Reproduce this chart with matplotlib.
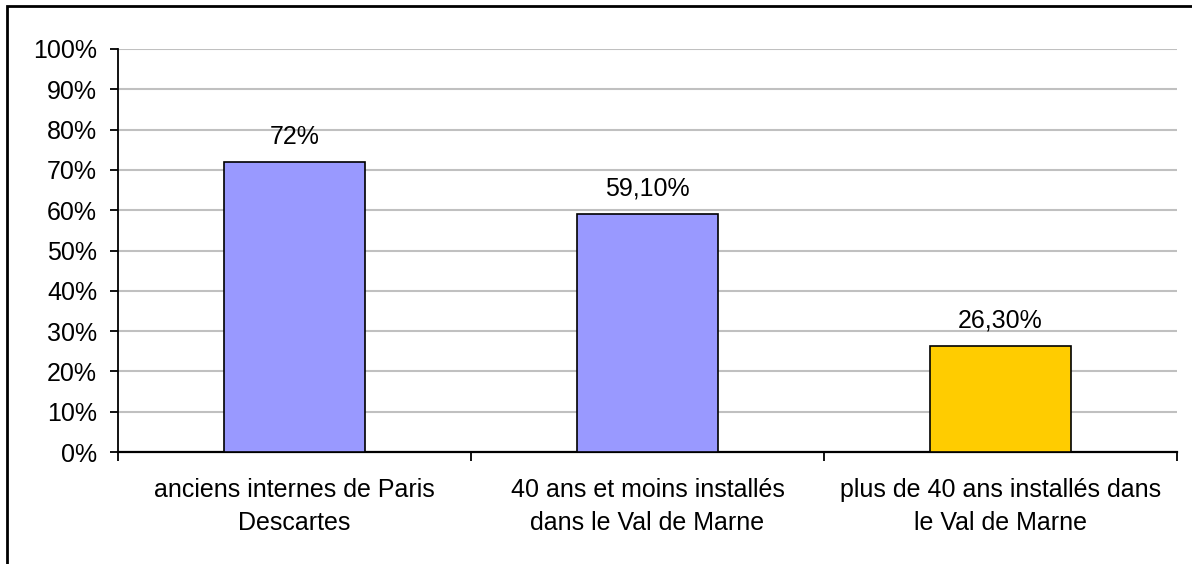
import matplotlib.pyplot as plt
from matplotlib.patches import Rectangle

categories = ['anciens internes de Paris\nDescartes',
              '40 ans et moins installés\ndans le Val de Marne',
              'plus de 40 ans installés dans\nle Val de Marne']
values = [72, 59.1, 26.3]
value_labels = ['72%', '59,10%', '26,30%']
bar_colors = ['#9999FF', '#9999FF', '#FFCC00']

plt.rcParams['font.family'] = ['Liberation Sans', 'DejaVu Sans']
FS = 18

fig = plt.figure(figsize=(11.92, 5.64), dpi=100)
ax = fig.add_axes([118 / 1192, 1 - 452 / 564, 1059 / 1192, 403 / 564])

x = range(len(categories))
ax.bar(x, values, width=0.4, color=bar_colors, edgecolor='black', linewidth=1.2, zorder=3)

for xi, v, lab in zip(x, values, value_labels):
    ax.annotate(lab, (xi, v), xytext=(0, 13), textcoords='offset points',
                ha='center', va='baseline', fontsize=FS)

ax.set_xlim(-0.5, len(categories) - 0.5)
ax.set_ylim(0, 100)
ax.set_yticks(range(0, 101, 10))
ax.set_yticklabels([f'{t}%' for t in range(0, 101, 10)], fontsize=FS)
ax.yaxis.grid(True, color='#C0C0C0', linewidth=1.5, zorder=0)
ax.set_axisbelow(True)

ax.set_xticks([i - 0.5 for i in range(len(categories) + 1)])
ax.set_xticklabels([])
ax.set_xticks(list(x), minor=True)
ax.set_xticklabels(categories, minor=True, fontsize=FS, linespacing=1.45)
ax.tick_params(axis='x', which='minor', length=0, pad=19)
ax.tick_params(axis='x', which='major', length=6.5, width=1.3, direction='out')
ax.tick_params(axis='y', length=6, width=1.3, direction='out', pad=9)

for side in ['top', 'right']:
    ax.spines[side].set_visible(False)
ax.spines['left'].set_linewidth(1.3)
ax.spines['bottom'].set_linewidth(1.6)

# chart frame (right and bottom edges fall outside the image)
fig.patches.append(Rectangle((7 / 1192, -0.1), 1.2, 1 - 6 / 564 + 0.1,
                             transform=fig.transFigure, fill=False,
                             edgecolor='black', linewidth=2))

fig.savefig('out.png', dpi=100)
